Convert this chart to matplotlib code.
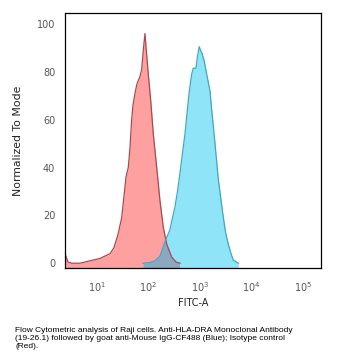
import numpy as np
import matplotlib
matplotlib.use("Agg")
import matplotlib.pyplot as plt

# log10(FITC-A) and normalized count
red_logx = [0.386, 0.444, 0.52, 0.676, 0.83, 0.967, 1.064, 1.161, 1.258, 1.335, 1.413,
            1.484, 1.529, 1.568, 1.612, 1.645, 1.678, 1.703, 1.742, 1.781, 1.839, 1.872,
            1.903, 1.936, 1.965, 2.0, 2.047, 2.097, 2.163, 2.227, 2.291, 2.357, 2.453,
            2.537, 2.614]
red_y = [4, 0.5, 0, 0, 0.8, 1.5, 2, 3, 4, 6.5, 12,
         19, 28, 36, 40, 48, 60, 66, 71, 75, 78, 81,
         89, 96, 88, 79, 68, 54, 40, 26, 15, 8, 2.6,
         0.5, 0]

blue_logx = [1.897, 2.033, 2.13, 2.227, 2.291, 2.362, 2.42, 2.469, 2.517, 2.566, 2.614,
             2.663, 2.711, 2.775, 2.808, 2.841, 2.872, 2.924, 2.95, 2.988, 3.012, 3.035,
             3.079, 3.132, 3.196, 3.229, 3.293, 3.357, 3.442, 3.496, 3.55, 3.603, 3.647,
             3.744]
blue_y = [0, 0.3, 1.0, 3, 7, 11, 14, 19, 23.5, 30, 37.6,
          46, 54, 68, 74, 79, 81.5, 81.5, 86, 90.5, 89, 88,
          85, 79, 72, 64, 50, 35, 21, 13, 8, 4, 1.3,
          0]

yticks = [0, 20, 40, 60, 80, 100]
xticks = [1e1, 1e2, 1e3, 1e4, 1e5]
xticklabels = ["$10^{1}$", "$10^{2}$", "$10^{3}$", "$10^{4}$", "$10^{5}$"]

caption = ["Flow Cytometric analysis of Raji cells. Anti-HLA-DRA Monoclonal Antibody",
           "(19-26.1) followed by goat anti-Mouse IgG-CF488 (Blue); Isotype control",
           "(Red)."]

red_x = 10 ** np.array(red_logx)
blue_x = 10 ** np.array(blue_logx)
ybot = -2

fig = plt.figure(figsize=(3.48, 3.64), dpi=100)
W, H = 348, 364
ax = fig.add_axes([65 / W, 1 - 268 / H, (321 - 65) / W, (268 - 12.7) / H])

red_patch = ax.fill_between(red_x, red_y, ybot, color="#ffa0a0", lw=0)
ax.fill_between(blue_x, blue_y, ybot, color="#90e4f8", lw=0)
# overlap of the two histograms drawn darker
ov = ax.fill_between(blue_x, blue_y, ybot, color="#8aa8c0", lw=0)
ov.set_clip_path(red_patch.get_paths()[0], ax.transData)

ax.plot(red_x, red_y, color="#a84850", lw=0.9)
ax.plot(blue_x, blue_y, color="#3fa8c0", lw=0.9)

ax.set_xscale("log")
ax.set_xlim(10 ** 0.386, 10 ** 5.347)
ax.set_ylim(ybot, 104.7)
ax.set_xticks(xticks)
ax.set_xticklabels(xticklabels)
ax.minorticks_off()
ax.set_yticks(yticks)
ax.tick_params(axis="both", length=0, labelsize=7, colors="#555555")
ax.tick_params(axis="x", pad=9)
ax.tick_params(axis="y", pad=7)
for s in ax.spines.values():
    s.set_linewidth(0.9)
    s.set_color("black")

ax.set_ylabel("Normalized To Mode", fontsize=7.8, color="#222222", labelpad=10)
ax.set_xlabel("FITC-A", fontsize=7, color="#222222", labelpad=3)

for i, line in enumerate(caption):
    fig.text(15 / W, 1 - (330 + 8 * i) / H, line, fontsize=6.0,
             family="Liberation Sans", va="center", ha="left")

plt.savefig("out.png", dpi=100)
